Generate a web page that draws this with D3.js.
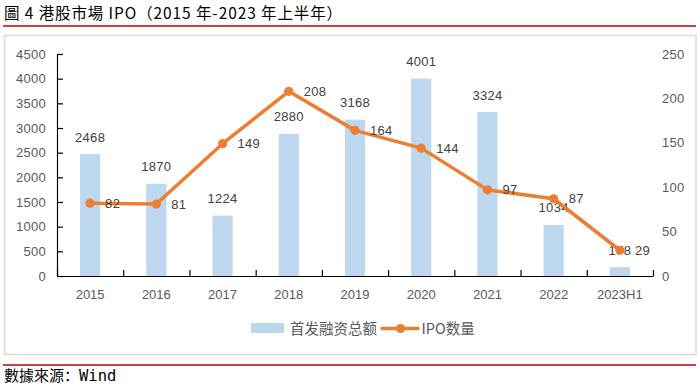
<!DOCTYPE html>
<html>
<head>
<meta charset="utf-8">
<script src="https://cdn.jsdelivr.net/npm/d3@7"></script>
<style>
  html, body { margin: 0; padding: 0; background: #fff; }
  svg { display: block; }
</style>
</head>
<body>
<svg id="chart" width="700" height="386"></svg>
<script>
// ---- data ----
const categories = ["2015", "2016", "2017", "2018", "2019", "2020", "2021", "2022", "2023H1"];
const amountValues = [2468, 1870, 1224, 2880, 3168, 4001, 3324, 1034, 178];   // 首发融资总额
const ipoCounts = [82, 81, 149, 208, 164, 144, 97, 87, 29];                     // IPO数量
const leftTicks = [0, 500, 1000, 1500, 2000, 2500, 3000, 3500, 4000, 4500];
const rightTicks = [0, 50, 100, 150, 200, 250];
const seriesNames = ["首发融资总额", "IPO数量"];
const titleText = "圖 4 港股市場 IPO（2015 年-2023 年上半年）";
const sourceLabel = "數據來源：";
const sourceName = "Wind";

// ---- drawing ----
const svg = d3.select("#chart");
const numFont = "'Liberation Sans', Arial, sans-serif";
const cjkFont = "'Noto Sans CJK SC', 'Noto Sans CJK TC', sans-serif";
const barColor = "#BDD7EE";
const lineColor = "#ED7D31";

// title
svg.append("text").attr("x", 4).attr("y", 18.5)
  .attr("font-family", "'Noto Sans CJK TC', 'Noto Sans CJK SC', sans-serif")
  .attr("font-size", 15.5).attr("letter-spacing", 0.9).attr("fill", "#000")
  .attr("xml:space", "preserve").text(titleText);
svg.append("line").attr("x1", 3).attr("x2", 696).attr("y1", 26).attr("y2", 26)
  .attr("stroke", "#C00000").attr("stroke-width", 1.5);

// chart box
svg.append("rect").attr("x", 4.5).attr("y", 35.5).attr("width", 691.5).attr("height", 319)
  .attr("fill", "#fff").attr("stroke", "#D9D9D9").attr("stroke-width", 1.5);

// bottom rule + source
svg.append("line").attr("x1", 3).attr("x2", 696).attr("y1", 365).attr("y2", 365)
  .attr("stroke", "#C00000").attr("stroke-width", 1.5);
const src = svg.append("text").attr("x", 4).attr("y", 381).attr("font-size", 15).attr("fill", "#000");
src.append("tspan").attr("font-family", cjkFont).text(sourceLabel);
src.append("tspan").attr("font-family", "'DejaVu Sans Mono', monospace").attr("font-size", 15.5).text(sourceName);

// scales
const plotLeft = 57, plotRight = 653, plotTop = 54, plotBottom = 276;
const x = d3.scaleBand().domain(categories).range([plotLeft, plotRight]).padding(0);
const xEdge = d3.scaleLinear().domain([0, categories.length]).range([plotLeft, plotRight]);
const yL = d3.scaleLinear().domain([0, 4500]).range([plotBottom, plotTop]);
const yR = d3.scaleLinear().domain([0, 250]).range([plotBottom, plotTop]);
const barW = x.bandwidth() * 0.305;

// bars
svg.append("g").selectAll("rect").data(amountValues).join("rect")
  .attr("x", (d, i) => x(categories[i]) + x.bandwidth() / 2 - barW / 2)
  .attr("y", d => yL(d))
  .attr("width", barW)
  .attr("height", d => yL(0) - yL(d))
  .attr("fill", barColor);

// left axis
const gL = svg.append("g").attr("transform", `translate(${plotLeft},0)`)
  .call(d3.axisLeft(yL).tickValues(leftTicks).tickFormat(d3.format("d"))
    .tickSizeInner(-6).tickSizeOuter(0).tickPadding(11));
gL.select(".domain").attr("stroke", "#000").attr("stroke-width", 1.2);
gL.selectAll(".tick line").attr("stroke", "#000").attr("stroke-width", 1.2);
gL.selectAll("text").attr("font-family", numFont).attr("font-size", 13).attr("fill", "#595959")
  .attr("letter-spacing", 0.3);

// right axis
const gR = svg.append("g").attr("transform", `translate(${plotRight},0)`)
  .call(d3.axisRight(yR).tickValues(rightTicks).tickFormat(d3.format("d")).tickSize(0).tickPadding(9));
gR.select(".domain").remove();
gR.selectAll("text").attr("font-family", numFont).attr("font-size", 13).attr("fill", "#595959")
  .attr("letter-spacing", 0.3);

// bottom axis: edge ticks
const gE = svg.append("g").attr("transform", `translate(0,${plotBottom})`)
  .call(d3.axisBottom(xEdge).tickValues(d3.range(categories.length + 1)).tickSizeInner(-6).tickSizeOuter(0).tickFormat(""));
gE.select(".domain").attr("stroke", "#000").attr("stroke-width", 1.2);
gE.selectAll(".tick line").attr("stroke", "#000").attr("stroke-width", 1.2);

// bottom axis: labels
const gB = svg.append("g").attr("transform", `translate(0,${plotBottom})`)
  .call(d3.axisBottom(x).tickSize(0).tickPadding(14));
gB.select(".domain").remove();
gB.selectAll("text").attr("font-family", numFont).attr("font-size", 13).attr("fill", "#595959");

// bar labels
svg.append("g").selectAll("text").data(amountValues).join("text")
  .attr("x", (d, i) => x(categories[i]) + x.bandwidth() / 2)
  .attr("y", d => yL(d) - 12.5)
  .attr("text-anchor", "middle")
  .attr("font-family", numFont).attr("font-size", 13).attr("fill", "#404040")
  .attr("letter-spacing", 0.3)
  .text(d => d);

// line
const cx = (d, i) => x(categories[i]) + x.bandwidth() / 2;
const line = d3.line().x(cx).y(d => yR(d));
svg.append("path").datum(ipoCounts).attr("d", line)
  .attr("fill", "none").attr("stroke", lineColor).attr("stroke-width", 3.5)
  .attr("stroke-linejoin", "round").attr("stroke-linecap", "round");
svg.append("g").selectAll("circle").data(ipoCounts).join("circle")
  .attr("cx", cx).attr("cy", d => yR(d)).attr("r", 4.6).attr("fill", lineColor);

// line labels
svg.append("g").selectAll("text").data(ipoCounts).join("text")
  .attr("x", (d, i) => cx(d, i) + 15)
  .attr("y", d => yR(d) + 4.6)
  .attr("font-family", numFont).attr("font-size", 13).attr("fill", "#404040")
  .attr("letter-spacing", 0.3)
  .text(d => d);

// legend
const lg = svg.append("g");
lg.append("rect").attr("x", 251).attr("y", 323).attr("width", 33).attr("height", 10).attr("fill", barColor);
lg.append("text").attr("x", 290).attr("y", 333.5).attr("font-family", cjkFont).attr("font-size", 14.5)
  .attr("fill", "#595959").text(seriesNames[0]);
lg.append("line").attr("x1", 382).attr("x2", 418).attr("y1", 328.5).attr("y2", 328.5)
  .attr("stroke", lineColor).attr("stroke-width", 3.5).attr("stroke-linecap", "round");
lg.append("circle").attr("cx", 400.5).attr("cy", 328.5).attr("r", 4.6).attr("fill", lineColor);
lg.append("text").attr("x", 421.5).attr("y", 333.5).attr("font-family", cjkFont).attr("font-size", 14.5)
  .attr("fill", "#595959").text(seriesNames[1]);
</script>
</body>
</html>
